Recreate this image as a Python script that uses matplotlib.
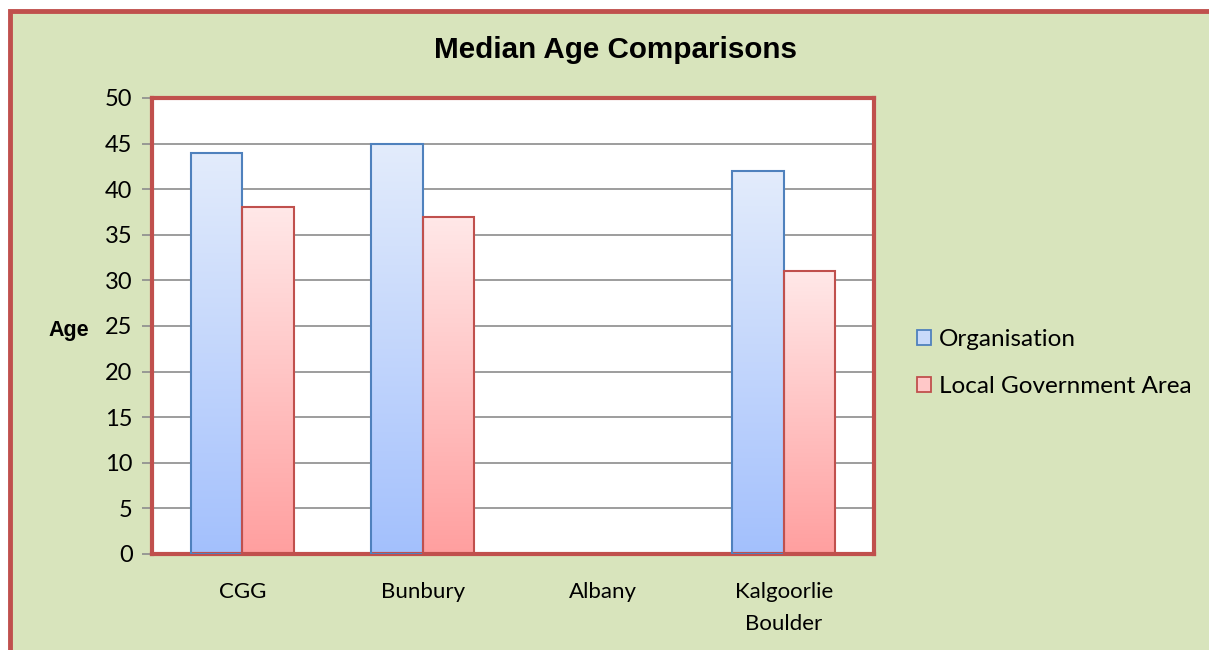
import numpy as np
import matplotlib.pyplot as plt
from matplotlib.patches import Rectangle
from matplotlib.colors import LinearSegmentedColormap

categories = ['CGG', 'Bunbury', 'Albany', 'Kalgoorlie\nBoulder']
organisation = [44, 45, 0, 42]
local_gov = [38, 37, 0, 31]

BLUE_EDGE = '#4F81BD'
RED_EDGE = '#C0504D'
blue_cmap = LinearSegmentedColormap.from_list('blue', ['#A3C0FD', '#E3ECFB'])
red_cmap = LinearSegmentedColormap.from_list('red', ['#FF9F9F', '#FFE8E8'])

fig = plt.figure(figsize=(12.09, 6.5), dpi=100)
fig.patch.set_facecolor('white')

# green chart area with thick red frame (runs off the right/bottom)
frame = Rectangle((10 / 1209, -0.05), 1.1, 1 - 11 / 650 + 0.05,
                  transform=fig.transFigure, facecolor='#D8E4BC',
                  edgecolor=RED_EDGE, linewidth=3.5, zorder=-5)
fig.add_artist(frame)

ax = fig.add_axes([152 / 1209, 1 - 554 / 650, (874 - 152) / 1209, (554 - 98) / 650])
ax.set_zorder(2)
ax.set_facecolor('white')

x = np.arange(len(categories))
width = 0.285
grad = np.linspace(0, 1, 256).reshape(-1, 1)


def gradient_bars(xs, vals, cmap, edge):
    for xi, v in zip(xs, vals):
        if v <= 0:
            continue
        ax.imshow(grad, cmap=cmap, aspect='auto', origin='lower',
                  extent=(xi - width / 2, xi + width / 2, 0, v), zorder=2)
        ax.add_patch(Rectangle((xi - width / 2, 0), width, v, fill=False,
                               edgecolor=edge, linewidth=1.5, zorder=3))


gradient_bars(x - width / 2, organisation, blue_cmap, BLUE_EDGE)
gradient_bars(x + width / 2, local_gov, red_cmap, RED_EDGE)

ax.set_xlim(-0.5, len(categories) - 0.5)
ax.set_ylim(0, 50)
ax.set_yticks(range(0, 51, 5))
ax.yaxis.grid(True, color='#8C8C8C', linewidth=1.2, zorder=1)
ax.set_axisbelow(True)

for s in ax.spines.values():
    s.set_color(RED_EDGE)
    s.set_linewidth(3)

ax.set_xticks(x)
ax.set_xticklabels(categories, fontsize=16, family='Lato', linespacing=1.75)
ax.tick_params(axis='x', length=0, pad=20)
ax.tick_params(axis='y', length=7, width=1.2, color='#8C8C8C', labelsize=17, pad=7)
for lbl in ax.get_yticklabels():
    lbl.set_family('Lato')

ax.set_ylabel('Age', rotation=0, fontsize=15.5, fontweight='bold',
              family='Liberation Sans', va='center', ha='center')
ax.yaxis.set_label_coords(-0.115, 0.49)

fig.text(615 / 1209, 1 - 50 / 650, 'Median Age Comparisons', ha='center', va='center',
         fontsize=21.3, fontweight='bold', family='Liberation Sans')

handles = [Rectangle((0, 0), 1, 1, facecolor='#C9DAFA', edgecolor=BLUE_EDGE, linewidth=1.3),
           Rectangle((0, 0), 1, 1, facecolor='#FFC8C8', edgecolor=RED_EDGE, linewidth=1.3)]
fig.legend(handles, ['Organisation', 'Local Government Area'],
           loc='center left', bbox_to_anchor=(895 / 1209, 1 - 363 / 650),
           frameon=False, prop={'family': 'Lato', 'size': 17.5},
           handlelength=0.6, handleheight=0.6, handletextpad=0.3, labelspacing=1.08)

fig.savefig('out.png', dpi=100)
